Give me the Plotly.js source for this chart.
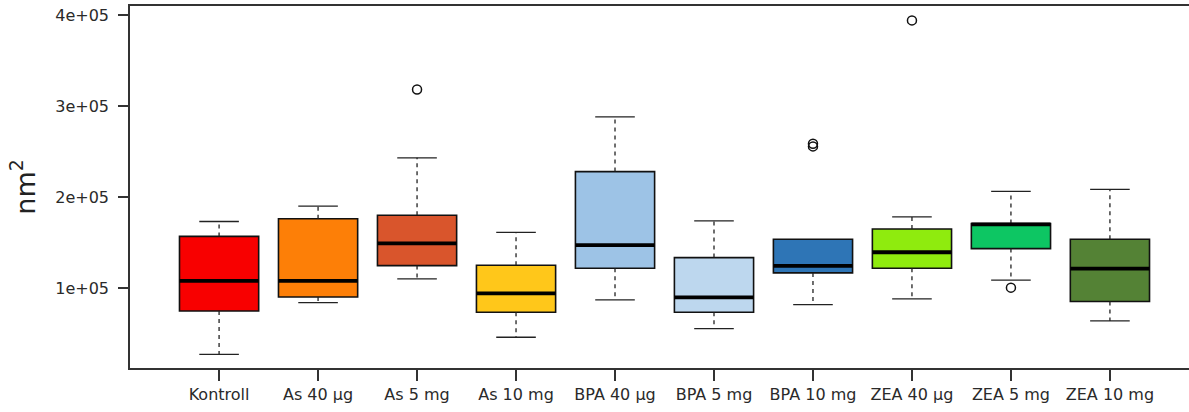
<!DOCTYPE html>
<html>
<head>
<meta charset="utf-8">
<script src="https://cdn.plot.ly/plotly-3.0.1.min.js"></script>
<style>html,body{margin:0;padding:0;background:#fff;overflow:hidden;}#chart{width:1200px;height:412px;}</style>
</head>
<body>
<div id="chart"></div>
<script>
// ---- data ----
const categories = ["Kontroll", "As 40 µg", "As 5 mg", "As 10 mg", "BPA 40 µg", "BPA 5 mg", "BPA 10 mg", "ZEA 40 µg", "ZEA 5 mg", "ZEA 10 mg"];
const lowerWhisker = [27000, 83800, 110000, 45800, 86800, 55300, 81700, 87900, 108500, 63700];
const q1Values     = [74700, 90000, 124500, 73300, 121600, 73300, 116500, 121600, 143200, 85000];
const medianValues = [107700, 107700, 149000, 94100, 147000, 89700, 124200, 139200, 169800, 121200];
const q3Values     = [156600, 176000, 179800, 124900, 227800, 133300, 153500, 164800, 170700, 153500];
const upperWhisker = [173000, 189800, 243000, 161000, 288000, 173600, 153500, 178000, 206000, 208400];
const outlierGroup = [2, 6, 6, 7, 8];
const outlierValue = [318000, 255500, 258500, 394000, 100300];
const boxColors = ["#F80000", "#FD7F07", "#D9552C", "#FFC71A", "#9DC3E6", "#BDD7EE", "#2E75B6", "#8FEB0E", "#0DC663", "#548235"];
const yTickValues = [100000, 200000, 300000, 400000];
const yTickLabels = ["1e+05", "2e+05", "3e+05", "4e+05"];

// ---- build traces ----
const positions = categories.map((c, i) => i + 1);
const traces = [];
categories.forEach((c, i) => {
  traces.push({
    type: "box",
    name: c,
    x: [positions[i]],
    q1: [q1Values[i]],
    median: [medianValues[i]],
    q3: [q3Values[i]],
    lowerfence: [q1Values[i]],
    upperfence: [q3Values[i]],
    width: 0.8,
    whiskerwidth: 0,
    fillcolor: boxColors[i],
    line: {color: "#111", width: 1.6},
    boxpoints: false,
    hoverinfo: "skip",
    showlegend: false
  });
});

// dashed whiskers
const wx = [], wy = [];
positions.forEach((p, i) => {
  if (upperWhisker[i] > q3Values[i]) { wx.push(p, p, null); wy.push(q3Values[i], upperWhisker[i], null); }
  if (lowerWhisker[i] < q1Values[i]) { wx.push(p, p, null); wy.push(q1Values[i], lowerWhisker[i], null); }
});
traces.push({type: "scatter", mode: "lines", x: wx, y: wy, line: {color: "#222", width: 1.3, dash: "4px,4px"}, hoverinfo: "skip", showlegend: false});

// whisker caps
const cx = [], cy = [];
positions.forEach((p, i) => {
  if (upperWhisker[i] > q3Values[i]) { cx.push(p - 0.2, p + 0.2, null); cy.push(upperWhisker[i], upperWhisker[i], null); }
  cx.push(p - 0.2, p + 0.2, null); cy.push(lowerWhisker[i], lowerWhisker[i], null);
});
traces.push({type: "scatter", mode: "lines", x: cx, y: cy, line: {color: "#222", width: 1.3}, hoverinfo: "skip", showlegend: false});

// thick medians
const mx = [], my = [];
positions.forEach((p, i) => { mx.push(p - 0.4, p + 0.4, null); my.push(medianValues[i], medianValues[i], null); });
traces.push({type: "scatter", mode: "lines", x: mx, y: my, line: {color: "#000", width: 3.8}, hoverinfo: "skip", showlegend: false});

// outliers
traces.push({
  type: "scatter", mode: "markers",
  x: outlierGroup.map(g => positions[g]), y: outlierValue,
  marker: {symbol: "circle-open", size: 9, color: "#111", line: {width: 1.5}},
  hoverinfo: "skip", showlegend: false
});

const layout = {
  width: 1200, height: 412,
  margin: {l: 130, r: 0, t: 6, b: 44},
  paper_bgcolor: "#fff", plot_bgcolor: "#fff",
  font: {family: "DejaVu Sans, sans-serif", size: 16, color: "#2a2a2a"},
  showlegend: false,
  hovermode: false,
  xaxis: {
    range: [0.1, 10.91],
    tickvals: positions, ticktext: categories,
    showgrid: false, zeroline: false,
    showline: true, linecolor: "#333", linewidth: 1.8, mirror: true,
    ticks: "outside", ticklen: 11, tickwidth: 1.5, tickcolor: "#333",
    tickfont: {size: 16}
  },
  yaxis: {
    range: [12000, 409800],
    tickvals: yTickValues, ticktext: yTickLabels,
    showgrid: false, zeroline: false,
    showline: true, linecolor: "#333", linewidth: 1.8,
    ticks: "outside", ticklen: 10, tickwidth: 1.5, tickcolor: "#333",
    ticklabelstandoff: 6,
    tickfont: {size: 16},
    title: {text: "nm<sup>2</sup>", font: {size: 27, color: "#222"}, standoff: 12}
  }
};

Plotly.newPlot("chart", traces, layout, {displayModeBar: false, staticPlot: true});
</script>
</body>
</html>
